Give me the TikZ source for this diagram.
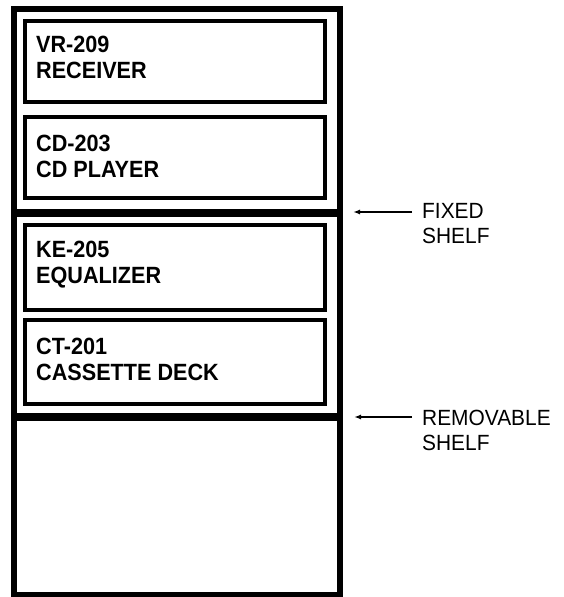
\documentclass[tikz,border=0pt]{standalone}
\usepackage{fontspec}
\setmainfont{Liberation Sans}
\newfontfamily\unitfont[FakeStretch=0.92]{Liberation Sans}
\newfontfamily\sidefont[FakeStretch=0.95]{Liberation Sans}
\usetikzlibrary{arrows.meta}
\begin{document}
\begin{tikzpicture}[x=1pt,y=-1pt,
  outer/.style={draw=black,line width=6pt},
  shelfline/.style={draw=black,line width=8pt},
  unitbox/.style={draw=black,line width=3.5pt},
  unitlabel/.style={anchor=north west,inner sep=0pt,align=left,
    font=\unitfont\fontsize{23.5}{25.5}\selectfont\bfseries},
  sidelabel/.style={anchor=north west,inner sep=0pt,align=left,
    font=\sidefont\fontsize{22}{25}\selectfont},
  pointer/.style={draw=black,line width=1.5pt,-{Latex[length=7pt,width=5pt]}}]
\useasboundingbox (0,0) rectangle (563,597);
% cabinet
\draw[outer] (14,8.5) rectangle (340,595);
% shelves
\coordinate (fixL) at (14,213);
\coordinate (fixR) at (340,213);
\coordinate (remL) at (14,417);
\coordinate (remR) at (340,417);
\draw[shelfline] (fixL) -- (fixR);
\draw[shelfline] (remL) -- (remR);
% units
\draw[unitbox] (25,21) rectangle (325,102);
\draw[unitbox] (25,117) rectangle (325,198);
\draw[unitbox] (25,225) rectangle (325,310);
\draw[unitbox] (25,320) rectangle (325,404);
\node[unitlabel] (vr) at (36,36) {VR-209\\RECEIVER};
\node[unitlabel] (cd) at (36,135) {CD-203\\CD PLAYER};
\node[unitlabel] (ke) at (36,241) {KE-205\\EQUALIZER};
\node[unitlabel] (ct) at (36,338) {CT-201\\CASSETTE DECK};
% side labels
\node[sidelabel] (fixed) at (422,203) {FIXED\\SHELF};
\node[sidelabel] (remov) at (422,410) {REMOVABLE\\SHELF};
\coordinate (fixtail) at (412,212);
\coordinate (fixtip) at (353,212);
\coordinate (remtail) at (412,417);
\coordinate (remtip) at (354,417);
\draw[pointer] (fixtail) -- (fixtip);
\draw[pointer] (remtail) -- (remtip);
\end{tikzpicture}
\end{document}
